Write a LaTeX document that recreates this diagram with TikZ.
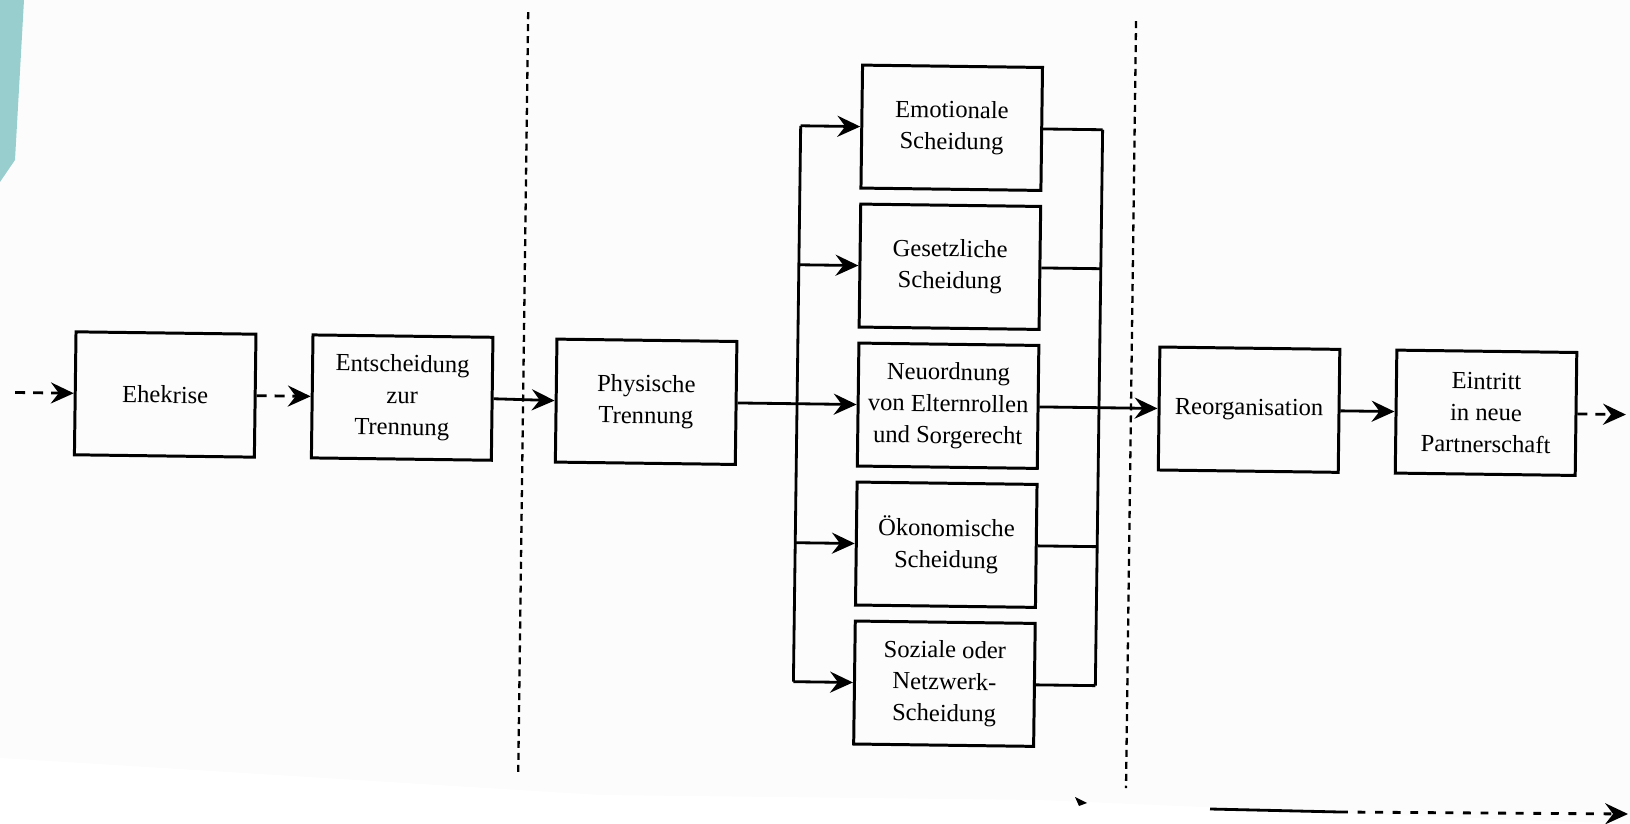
\documentclass[tikz,border=0pt]{standalone}
\usepackage{fontspec}
\setmainfont{Liberation Serif}
\usetikzlibrary{arrows.meta,calc}
\definecolor{teal1}{RGB}{153,206,206}
\definecolor{paper}{RGB}{252,252,252}
\begin{document}
\begin{tikzpicture}[x=0.02cm,y=-0.02cm,
  box/.style={draw, line width=1.7pt, minimum width=3.6cm, minimum height=2.46cm, align=center, inner sep=2pt, font=\fontsize{14}{18}\selectfont},
  conn/.style={line width=1.6pt},
  tip/.style={-{Stealth[length=13pt,width=12pt,inset=4.5pt]}},
  dashh/.style={dash pattern=on 5.7pt off 4.5pt},
  dashv/.style={line width=1.3pt, dash pattern=on 4pt off 2.8pt}]
\useasboundingbox (0,0) rectangle (1630,824);
\fill[paper] (0,0) -- (1630,0) -- (1630,824) -- (1340,813) -- (1040,800) -- (600,795) -- (0,758) -- cycle;
\fill[teal1] (0,0) -- (24,0) -- (15,160) -- (0,182) -- cycle;

\begin{scope}[rotate around={-0.75:(815,412)}, transform shape]
\node[box] (ehe) at (165,403) {Ehekrise};
\node[box] (ent) at (402,403) {Entscheidung\\zur\\Trennung};
\node[box] (phy) at (646,404) {Physische\\Trennung};
\node[box] (emo) at (948,126) {Emotionale\\Scheidung};
\node[box] (ges) at (948,265) {Gesetzliche\\Scheidung};
\node[box] (neu) at (948,404) {Neuordnung\\von Elternrollen\\und Sorgerecht};
\node[box] (oek) at (948,543) {Ökonomische\\Scheidung};
\node[box] (soz) at (948,682) {Soziale oder\\Netzwerk-\\Scheidung};
\node[box] (reo) at (1249,404) {Reorganisation};
\node[box] (ein) at (1486,404) {Eintritt\\in neue\\Partnerschaft};

\coordinate (inp) at (15,403);
\coordinate (outp) at (1626,404);
\foreach \n/\yy in {emo/126,ges/265,oek/543,soz/682}{
  \coordinate (L\n) at (797,\yy);
  \coordinate (R\n) at (1099,\yy);
}
\coordinate (d1a) at (523,16);
\coordinate (d1b) at (523,779);
\coordinate (d2a) at (1131,17);
\coordinate (d2b) at (1131,784);

\draw[conn,dashh,tip] (inp) -- (ehe.west);
\draw[conn,dashh,tip] (ehe.east) -- (ent.west);
\draw[conn,tip] (ent.east) -- (phy.west);
\draw[conn,tip] (phy.east) -- (neu.west);
\draw[conn] (Lemo) -- (Lsoz);
\foreach \n in {emo,ges,oek,soz}{
  \draw[conn,tip] (L\n) -- (\n.west);
  \draw[conn] (\n.east) -- (R\n);
}
\draw[conn] (Remo) -- (Rsoz);
\draw[conn,tip] (neu.east) -- (reo.west);
\draw[conn,tip] (reo.east) -- (ein.west);
\draw[conn,dashh,tip] (ein.east) -- (outp);
\draw[dashv] (d1a) -- (d1b);
\draw[dashv] (d2a) -- (d2b);
\end{scope}

\coordinate (ba) at (1210,809);
\coordinate (bb) at (1340,812);
\coordinate (bc) at (1628,814);
\draw[conn] (ba) -- (bb);
\draw[conn,dash pattern=on 4.5pt off 5.5pt,tip] (bb) -- (bc);
\fill (1075,797) -- (1087,803) -- (1079,806) -- cycle;
\end{tikzpicture}
\end{document}
